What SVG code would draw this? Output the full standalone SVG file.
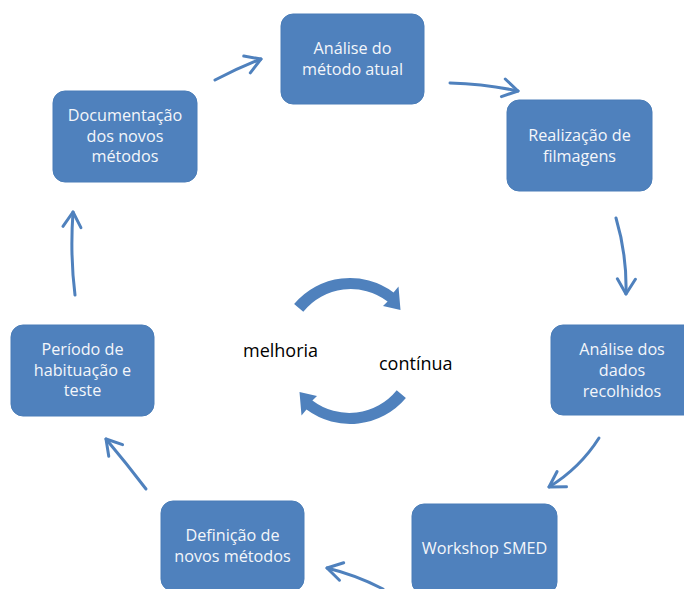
<svg xmlns="http://www.w3.org/2000/svg" width="684" height="589" viewBox="0 0 684 589">
  <defs>
    <style>
      .box { fill: #4F81BD; stroke: #4A7DB8; stroke-width: 1; }
      .lbl { font-family: "Open Sans", "Noto Sans", "Liberation Sans", sans-serif; font-size: 16.2px; fill: #F4F6FA; text-anchor: middle; }
      .mid { font-family: "Open Sans", "Noto Sans", "Liberation Sans", sans-serif; font-size: 18px; fill: #000; }
      .conn { fill: none; stroke: #4F81BD; stroke-width: 3; stroke-linecap: round; }
      .cyc { fill: #4F81BD; }
    </style>
    <marker id="head" markerUnits="userSpaceOnUse" viewBox="-18 -12 20 24" refX="0" refY="0" markerWidth="20" markerHeight="24" orient="auto">
      <path d="M-15,-9 L0,0 L-15,9" fill="none" stroke="#4F81BD" stroke-width="3" stroke-linecap="round" stroke-linejoin="round"/>
    </marker>
    <!-- curved block arrow of the central cycle, drawn around (0,0) -->
    <path id="cycArrow" d="M-55.9,-47.0 A73 73 0 0 1 43.5,-58.6 L48.5,-64.5 L50.5,-41.0 L33.0,-45.0 L37.6,-49.5 A61 61 0 0 0 -46.7,-39.2 Z"/>
  </defs>

  <!-- connectors -->
  <g id="connectors">
    <path class="conn" marker-end="url(#head)" d="M215,80 Q238,68 261,59"/>
    <path class="conn" marker-end="url(#head)" d="M450,83 Q486,84 518,91"/>
    <path class="conn" marker-end="url(#head)" d="M616,218 Q627,255 626,294"/>
    <path class="conn" marker-end="url(#head)" d="M599,438 Q580,468 549,487"/>
    <path class="conn" marker-end="url(#head)" d="M383,589 Q356,575 327,568"/>
    <path class="conn" marker-end="url(#head)" d="M146,489 Q127,464 106,439"/>
    <path class="conn" marker-end="url(#head)" d="M75,295 Q70,255 73,212"/>
  </g>

  <!-- central cycle -->
  <g id="cycle">
    <use href="#cycArrow" class="cyc" transform="translate(350,351)"/>
    <use href="#cycArrow" class="cyc" transform="translate(350,351) rotate(180)"/>
    <text class="mid" x="243" y="357">melhoria</text>
    <text class="mid" x="379" y="370">contínua</text>
  </g>

  <g id="n-analise-metodo">
    <rect class="box" x="281" y="14" width="143" height="90" rx="12"/>
    <text class="lbl" x="352.5" y="54">Análise do</text>
    <text class="lbl" x="352.5" y="75">método atual</text>
  </g>

  <g id="n-filmagens">
    <rect class="box" x="507" y="100" width="145" height="91" rx="12"/>
    <text class="lbl" x="579.5" y="141">Realização de</text>
    <text class="lbl" x="579.5" y="162">filmagens</text>
  </g>

  <g id="n-analise-dados">
    <rect class="box" x="551" y="325" width="145" height="90" rx="12"/>
    <text class="lbl" x="622" y="355">Análise dos</text>
    <text class="lbl" x="622" y="376">dados</text>
    <text class="lbl" x="622" y="397">recolhidos</text>
  </g>

  <g id="n-workshop">
    <rect class="box" x="412" y="504" width="145" height="90" rx="12"/>
    <text class="lbl" x="484.5" y="554">Workshop SMED</text>
  </g>

  <g id="n-definicao">
    <rect class="box" x="161" y="501" width="143" height="90" rx="12"/>
    <text class="lbl" x="232.5" y="541">Definição de</text>
    <text class="lbl" x="232.5" y="562">novos métodos</text>
  </g>

  <g id="n-habituacao">
    <rect class="box" x="11" y="325" width="143" height="91" rx="12"/>
    <text class="lbl" x="82.5" y="355">Período de</text>
    <text class="lbl" x="82.5" y="376">habituação e</text>
    <text class="lbl" x="82.5" y="396">teste</text>
  </g>

  <g id="n-documentacao">
    <rect class="box" x="53" y="91" width="144" height="91" rx="12"/>
    <text class="lbl" x="125" y="121">Documentação</text>
    <text class="lbl" x="125" y="142">dos novos</text>
    <text class="lbl" x="125" y="162">métodos</text>
  </g>
</svg>
